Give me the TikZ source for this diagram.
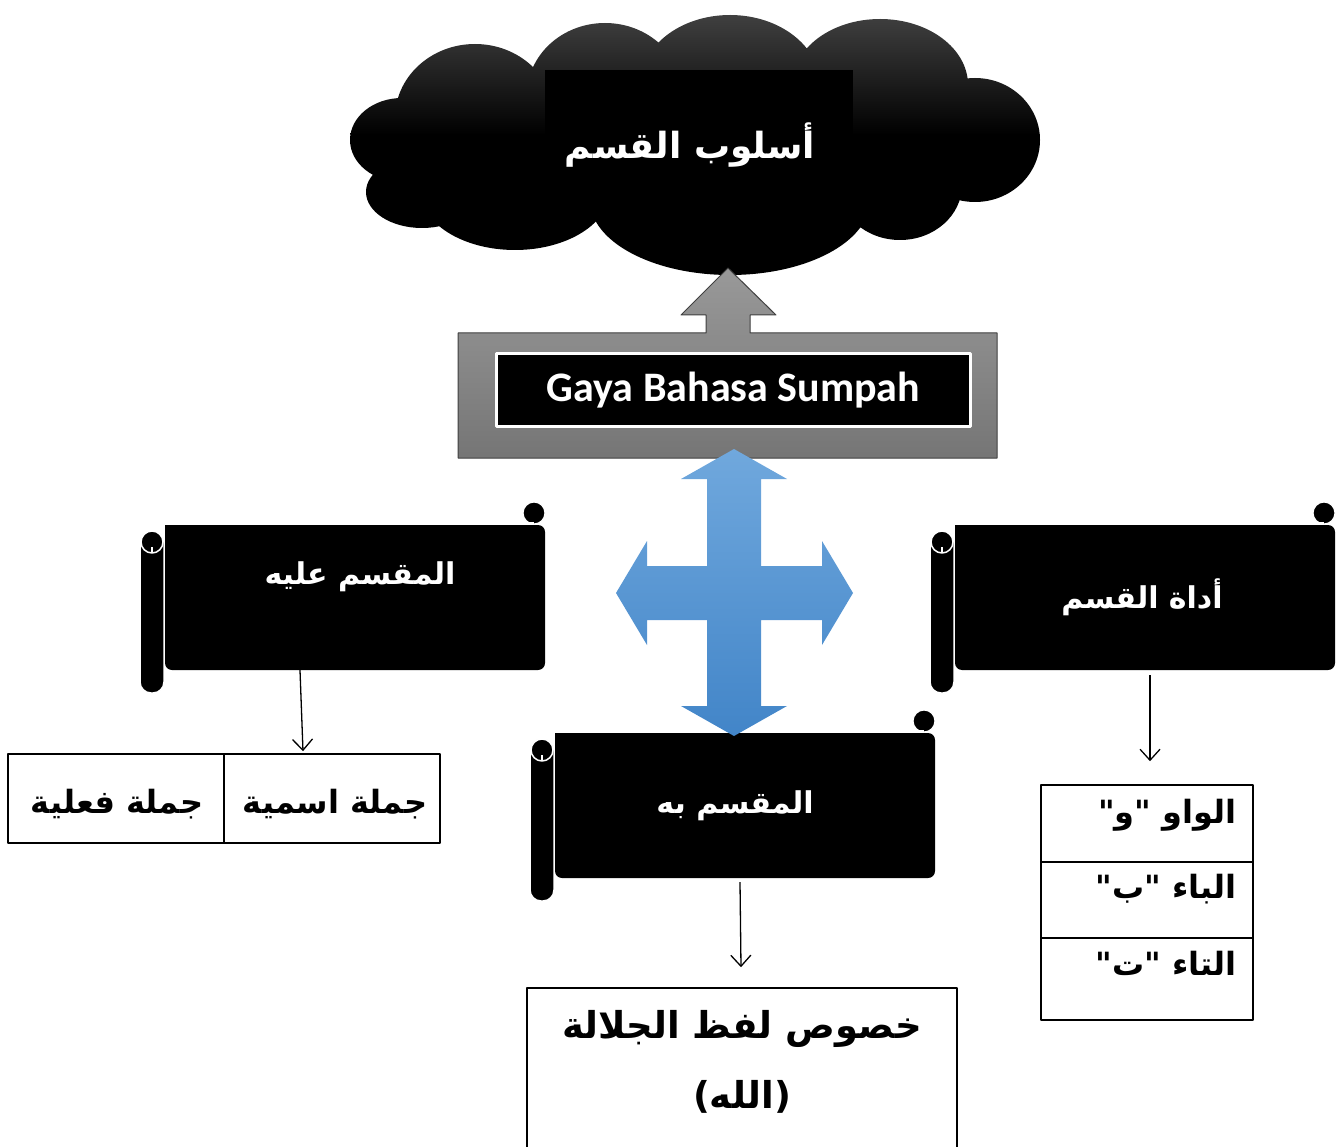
\documentclass[tikz,border=0pt]{standalone}
\usepackage{fontspec}
\setmainfont{Carlito}
\newfontfamily\arabicfont[Script=Arabic]{DejaVu Sans}
\TeXXeTstate=1
\usetikzlibrary{arrows.meta}

\definecolor{crossTop}{RGB}{112,168,221}
\definecolor{crossBot}{RGB}{66,133,200}

% horizontal scroll: #1,#2 = left of roll, top of body; #3 = name of body
\newcommand\scrollat[3]{%
  \begin{scope}[shift={(#1,#2)}]
    \node[scrollbody] (#3) at (215,72.5) {};
    \fill (25,0) rectangle (45,20);
    \filldraw[fill=black,draw=white,line width=1.2pt] (394,-12) circle (11pt);
    \draw[white,line width=1.5pt] (383,-2) -- (394,-2);
    \filldraw[fill=black,draw=white,line width=1.5pt,rounded corners=11pt] (0,6) rectangle (24,168);
    \filldraw[fill=black,draw=white,line width=1.5pt] (12,17) circle (11pt);
    \draw[white,line width=1.5pt] (12,28) -- (12,22);
  \end{scope}}

\begin{document}
\begin{tikzpicture}[x=1pt,y=-1pt,line join=round,
  scrollbody/.style={fill=black,minimum width=380pt,minimum height=145pt,inner sep=0pt,rounded corners=7pt},
  scrolltext/.style={text=white,font=\arabicfont\bfseries\fontsize{30}{36}\selectfont},
  cell/.style={draw=black,line width=1.6pt,inner sep=0pt},
  celltext/.style={font=\arabicfont\bfseries\fontsize{32}{38}\selectfont},
  downarrow/.style={-{Straight Barb[length=11pt,width=20pt]},line width=1.3pt}]
  \clip (0,0) rectangle (1344,1147);

  % cloud
  \begin{scope}
    \clip
      (475,118) ellipse [x radius=80pt,y radius=74pt]
      (605,95) ellipse [x radius=78pt,y radius=72pt]
      (730,85) ellipse [x radius=90pt,y radius=70pt]
      (880,85) ellipse [x radius=88pt,y radius=66pt]
      (975,140) ellipse [x radius=65pt,y radius=62pt]
      (900,185) ellipse [x radius=62pt,y radius=55pt]
      (850,150) ellipse [x radius=55pt,y radius=45pt]
      (730,200) ellipse [x radius=140pt,y radius=75pt]
      (515,190) ellipse [x radius=95pt,y radius=60pt]
      (402,140) ellipse [x radius=52pt,y radius=42pt]
      (422,192) ellipse [x radius=56pt,y radius=36pt];
    \shade[top color=black!74,bottom color=black] (340,10) rectangle (1050,135);
    \fill[black] (340,134) rectangle (1050,280);
  \end{scope}
  \fill[black] (545,70) rectangle (853,215);
  \node[text=white,font=\arabicfont\bfseries\fontsize{36}{42}\selectfont] (uslub) at (690,145) {\beginR أسلوب القسم\endR};

  % up arrow callout
  \shadedraw[top color=black!40,bottom color=black!54,draw=black!75,line width=1pt]
    (458,333) -- (706,333) -- (706,315) -- (681,315) -- (728,268) -- (776,315)
    -- (750,315) -- (750,333) -- (997,333) -- (997,458) -- (458,458) -- cycle;
  \node[fill=black,draw=white,line width=3pt,minimum width=474pt,minimum height=73pt,
    text=white,font=\bfseries\fontsize{42}{48}\selectfont] (gaya) at (733.5,390) {Gaya Bahasa Sumpah};

  % scrolls
  \scrollat{140}{525}{alaih}
  \scrollat{930}{525}{adat}
  \scrollat{530}{733}{bih}
  \node[scrolltext] (alaihtxt) at (360,577) {\beginR المقسم عليه\endR};
  \node[scrolltext] (adattxt) at (1142,597) {\beginR أداة القسم\endR};
  \node[scrolltext] (bihtxt) at (735,806) {\beginR المقسم به\endR};

  % left table
  \node[cell,minimum width=216pt,minimum height=89pt] (ismiya) at (332,798.5) {};
  \node[cell,minimum width=216pt,minimum height=89pt] (fiiliya) at (116,798.5) {};
  \node[celltext] (ismiyatxt) at (335,804) {\beginR جملة اسمية\endR};
  \node[celltext] (fiiliyatxt) at (117,804) {\beginR جملة فعلية\endR};

  % right table
  \node[cell,minimum width=212pt,minimum height=77pt] (waw) at (1147,823.5) {};
  \node[cell,minimum width=212pt,minimum height=76pt] (ba) at (1147,900) {};
  \node[cell,minimum width=212pt,minimum height=82pt] (ta) at (1147,979) {};
  \node[celltext,anchor=east] (wawtxt) at (1240,815) {\beginR الواو "و"\endR};
  \node[celltext,anchor=east] (batxt) at (1240,889) {\beginR الباء "ب"\endR};
  \node[celltext,anchor=east] (tatxt) at (1240,963) {\beginR التاء "ت"\endR};

  % middle box
  \node[cell,minimum width=430pt,minimum height=170pt] (khusus) at (742,1073) {};
  \node[align=center,font=\arabicfont\bfseries\fontsize{37}{70}\selectfont] (khusustxt) at (742,1062)
    {\beginR خصوص لفظ الجلالة\endR\\)\beginR الله\endR(};

  % connectors
  \draw[downarrow] ([xshift=-55pt]alaih.south) -- ([xshift=-29pt,yshift=2pt]ismiya.north);
  \draw[downarrow] ([xshift=-5pt,yshift=-4pt]bih.south) -- ([xshift=-1pt,yshift=20pt]khusus.north);
  \draw[downarrow] ([xshift=5pt,yshift=-5pt]adat.south) -- ([xshift=3pt,yshift=23pt]waw.north);

  % blue cross arrow
  \shade[top color=crossTop,bottom color=crossBot]
    (734,449) -- (787,479) -- (761,479) -- (761,566) -- (822,566) -- (822,541)
    -- (853,593) -- (822,645) -- (822,620) -- (761,620) -- (761,706) -- (787,706)
    -- (734,736) -- (681,706) -- (707,706) -- (707,620) -- (647,620) -- (647,645)
    -- (616,593) -- (647,541) -- (647,566) -- (707,566) -- (707,479) -- (681,479) -- cycle;
\end{tikzpicture}
\end{document}
